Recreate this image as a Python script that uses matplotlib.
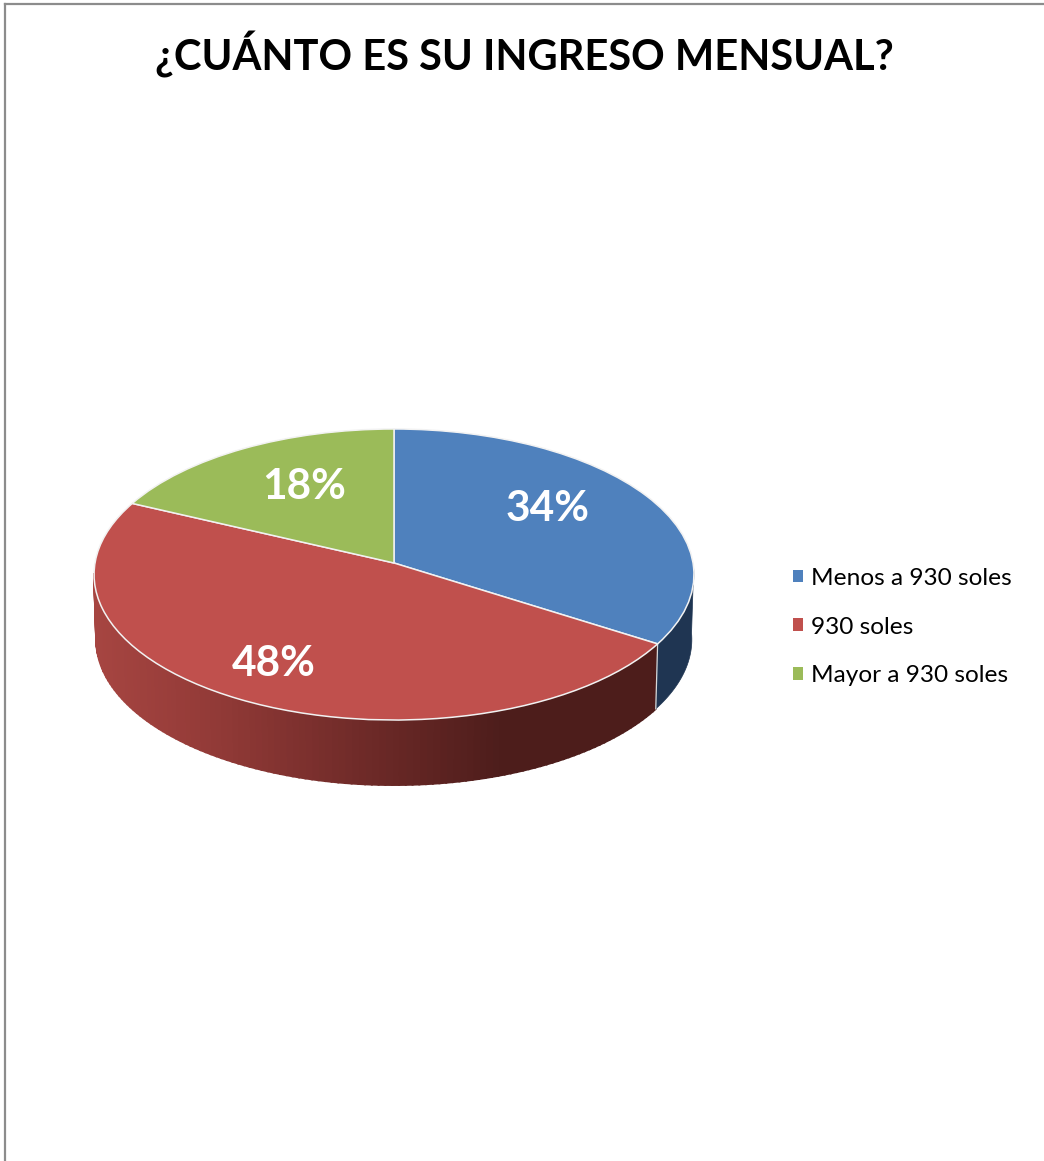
import numpy as np
import matplotlib
matplotlib.use("Agg")
import matplotlib.pyplot as plt
from matplotlib.lines import Line2D
from matplotlib.patches import Patch
from matplotlib.path import Path
from matplotlib.transforms import Transform

# ---- data ----
title = "¿CUÁNTO ES SU INGRESO MENSUAL?"
categories = ["Menos a 930 soles", "930 soles", "Mayor a 930 soles"]
values = [34, 48, 18]
colors = ["#4F81BD", "#C0504D", "#9BBB59"]

W, H = 1044, 1161
CX, CY, RX, RY = 394.0, 563.0, 299.0, 144.6   # apex and radii in pixels
K = 0.079                                     # perspective strength
DEPTH = 65 / RY
START = 90.0

plt.rcParams["font.family"] = ["Lato", "DejaVu Sans"]
fig = plt.figure(figsize=(W / 100, H / 100), dpi=100, facecolor="white")
ax = fig.add_axes([0, 0, 1, 1])


class Tilt(Transform):
    """Perspective of the pie's plane."""
    input_dims = output_dims = 2

    def transform_non_affine(self, xy):
        xy = np.asarray(xy, float)
        w = 1 + K * xy[:, 1]
        return np.column_stack([xy[:, 0] / w, xy[:, 1] / w])

    def transform_path_non_affine(self, path):
        return Path(self.transform_non_affine(path.vertices), path.codes)


tilt = Tilt()


def side(theta, drop):
    x, y = np.cos(theta), np.sin(theta)
    w = 1 + K * y
    return x / w * (1 - 0.007 * drop), y / w - drop * DEPTH


wedges, _ = ax.pie(values, colors=colors, startangle=START, counterclock=False,
                   radius=1, wedgeprops=dict(linewidth=1.1, edgecolor="#F2F2F2", zorder=5))
for wd in wedges:
    wd.set_transform(tilt + ax.transData)

ax.set_aspect("auto")
ax.set_xlim(-CX / RX, (W - CX) / RX)
ax.set_ylim((CY - H) / RY, CY / RY)
ax.axis("off")

# ---- extruded side, from the slice angles ----
edges = START - 360 * np.cumsum([0] + values) / sum(values)
red_stops = ([-1.0, -0.6, 0.0, 0.36, 1.0],
             [(166, 69, 65), (146, 58, 55), (103, 39, 37), (77, 29, 27), (77, 29, 27)])
red_r = [c[0] / 255 for c in red_stops[1]]
red_g = [c[1] / 255 for c in red_stops[1]]
red_b = [c[2] / 255 for c in red_stops[1]]

# red part
a0, a1 = edges[1], -176.0
ths = np.radians(np.linspace(a0, a1, 120))
for t0, t1 in zip(ths[:-1], ths[1:]):
    xa, ya = side(np.array([t0, t1]), 0)
    xb, yb = side(np.array([t1, t0]), 1)
    xm = xa.mean()
    col = (np.interp(xm, red_stops[0], red_r), np.interp(xm, red_stops[0], red_g),
           np.interp(xm, red_stops[0], red_b))
    ax.fill(np.r_[xa, xb], np.r_[ya, yb], facecolor=col, edgecolor=col, lw=1.4, zorder=2)

# blue part
ths = np.radians(np.linspace(edges[1], -2.0, 30))
xa, ya = side(ths, 0)
xb, yb = side(ths[::-1], 1)
ax.fill(np.r_[xa, xb], np.r_[ya, yb], color="#1F3552", lw=0.5, zorder=2.5)

# seam between the two side parts
xs, ys = side(np.radians([edges[1], edges[1]]), np.array([0, 1]))
ax.plot(xs, ys, color="#D8D8D8", lw=0.9, zorder=3)

# ---- value labels ----
label_xy = [(548, 509), (274, 664), (304, 487)]
for v, (px, py) in zip(values, label_xy):
    ax.text((px - CX) / RX, (CY - py) / RY, f"{v}%", color="white", fontsize=30.5,
            fontweight="bold", ha="center", va="center", zorder=6)

# ---- title, legend, frame ----
fig.text(524.5 / W, 1 - 54.5 / H, title, fontsize=30, fontweight="bold",
         ha="center", va="center", color="black")

handles = [Patch(facecolor=c, edgecolor="none") for c in colors]
fig.legend(handles, categories, loc="center left",
           bbox_to_anchor=(783 / W, 1 - 627 / H), frameon=False, fontsize=17.6,
           handlelength=0.42, handleheight=0.42, handletextpad=0.32,
           labelspacing=1.14, borderpad=0.4, borderaxespad=0)

fig.add_artist(Line2D([5 / W, 5 / W], [0, 1 - 4 / H], color="#8C8C8C", lw=1.6))
fig.add_artist(Line2D([5 / W, 1], [1 - 4 / H, 1 - 4 / H], color="#8C8C8C", lw=1.6))

fig.savefig("out.png", dpi=100, facecolor="white")
